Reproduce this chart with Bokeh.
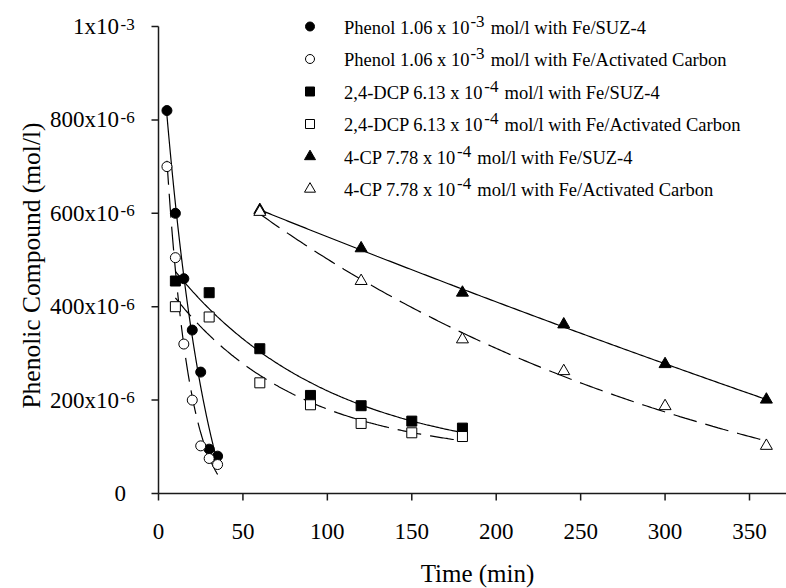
import numpy as np
from bokeh.plotting import figure
from bokeh.models import Range1d, Label, ColumnDataSource
from bokeh.core.properties import value
from bokeh.embed import file_html
from bokeh.resources import INLINE

# ---- measured concentrations (mol/l) against reaction time (min) ----
phenol_t = [5, 10, 15, 20, 25, 30, 35]
phenol_suz = [820e-6, 600e-6, 460e-6, 350e-6, 260e-6, 95e-6, 80e-6]
phenol_ac = [700e-6, 505e-6, 320e-6, 200e-6, 102e-6, 75e-6, 62e-6]

dcp_t = [10, 30, 60, 90, 120, 150, 180]
dcp_suz = [455e-6, 430e-6, 310e-6, 210e-6, 188e-6, 155e-6, 140e-6]
dcp_ac = [400e-6, 378e-6, 237e-6, 190e-6, 150e-6, 130e-6, 122e-6]

cp_t = [60, 120, 180, 240, 300, 360]
cp_suz = [607e-6, 525e-6, 430e-6, 362e-6, 277e-6, 201e-6]
cp_ac = [603e-6, 455e-6, 330e-6, 262e-6, 187e-6, 102e-6]

x_ticks = [0, 50, 100, 150, 200, 250, 300, 350]
x_tick_labels = ["0", "50", "100", "150", "200", "250", "300", "350"]
y_ticks = [0, 200e-6, 400e-6, 600e-6, 800e-6, 1e-3]
y_tick_base = ["0", "200x10", "400x10", "600x10", "800x10", "1x10"]
y_tick_sup = ["", "-6", "-6", "-6", "-6", "-3"]

legend_base = ["Phenol 1.06 x 10", "Phenol 1.06 x 10",
               "2,4-DCP 6.13 x 10", "2,4-DCP 6.13 x 10",
               "4-CP 7.78 x 10", "4-CP 7.78 x 10"]
legend_sup = ["-3", "-3", "-4", "-4", "-4", "-4"]
legend_tail = ["mol/l with Fe/SUZ-4", "mol/l with Fe/Activated Carbon",
               "mol/l with Fe/SUZ-4", "mol/l with Fe/Activated Carbon",
               "mol/l with Fe/SUZ-4", "mol/l with Fe/Activated Carbon"]

SERIF = "Liberation Serif"
W, H = 786, 588

# ---- page geometry (pixels) ----
AXIS_X = 158          # where time 0 sits
AXIS_Y = 493          # where concentration 0 sits
TOP_Y = 26            # where the top y tick sits
PX_PER_MIN = 591.0 / 350.0
PX_PER_CONC = (AXIS_Y - TOP_Y) / y_ticks[-1]
TICK_LEN = 7
AX_COLOR = "#1a1a1a"

# Times-compatible advance widths (per 1000 em) used to chain superscripts
ADV = {' ': 250, ',': 250, '-': 333, '.': 250, '/': 278, 'A': 722, 'C': 667,
       'D': 722, 'F': 556, 'P': 556, 'S': 556, 'U': 722, 'Z': 611, 'T': 611,
       'a': 444, 'b': 500, 'c': 444, 'd': 500, 'e': 444, 'h': 500, 'i': 278,
       'l': 278, 'm': 778, 'n': 500, 'o': 500, 'p': 500, 'r': 333, 't': 278,
       'u': 500, 'v': 500, 'w': 722, 'x': 500}


def text_width(s, size):
    return sum(ADV.get(ch, 500) for ch in s) * size / 1000.0


def decay_fit(t, c, n=200):
    """Least-squares fit of c = c0 + a*exp(-k t), k found by a scan."""
    t = np.asarray(t, float)
    c = np.asarray(c, float)
    best = None
    for k in np.linspace(0.0005, 0.3, 3000):
        X = np.column_stack([np.ones_like(t), np.exp(-k * t)])
        coef = np.linalg.lstsq(X, c, rcond=None)[0]
        sse = float(((X @ coef - c) ** 2).sum())
        if best is None or sse < best[0]:
            best = (sse, k, coef)
    _, k, (c0, a) = best
    tt = np.linspace(t.min(), t.max(), n)
    return tt, c0 + a * np.exp(-k * tt)


x_end = (W - AXIS_X) / PX_PER_MIN
p = figure(width=W, height=H,
           x_range=Range1d(-AXIS_X / PX_PER_MIN, x_end),
           y_range=Range1d(-(H - AXIS_Y) / PX_PER_CONC, AXIS_Y / PX_PER_CONC),
           x_axis_location=None, y_axis_location=None,
           output_backend="svg", toolbar_location=None,
           min_border=0)
p.background_fill_color = "white"
p.border_fill_color = "white"
p.outline_line_color = None
p.grid.visible = False

# page-pixel ranges over the whole frame, for ticks, labels and the key
p.extra_x_ranges = {"px": Range1d(0, W)}
p.extra_y_ranges = {"py": Range1d(H, 0)}

# ---- time axis ----
p.segment(x0=[0], y0=[0], x1=[x_end], y1=[0],
          line_color=AX_COLOR, line_width=1.5)
p.segment(x0=x_ticks, x1=x_ticks,
          y0=[AXIS_Y] * len(x_ticks), y1=[AXIS_Y + TICK_LEN] * len(x_ticks),
          y_range_name="py", line_color=AX_COLOR, line_width=1.5)
xlab = ColumnDataSource(dict(x=x_ticks, y=[530.5] * len(x_ticks),
                             text=x_tick_labels))
p.text(x="x", y="y", text="text", source=xlab, y_range_name="py",
       text_font=value(SERIF), text_font_size="23px", text_color="black",
       text_align="center", text_baseline="middle")
p.add_layout(Label(x=477, y=572.5, x_range_name="px", y_range_name="py",
                   text="Time (min)", text_font=SERIF,
                   text_font_size="25px", text_align="center",
                   text_baseline="middle", text_color="black"))

# ---- concentration axis: rule, outward ticks, labels with exponents ----
p.segment(x0=[0], y0=[y_ticks[0]], x1=[0], y1=[y_ticks[-1]],
          line_color=AX_COLOR, line_width=1.5)
p.segment(x0=[AXIS_X - TICK_LEN] * len(y_ticks), x1=[AXIS_X] * len(y_ticks),
          y0=y_ticks, y1=y_ticks, x_range_name="px",
          line_color=AX_COLOR, line_width=1.5)

TICK_FS = 23
SUP_FS = 17
for val, base, sup in zip(y_ticks, y_tick_base, y_tick_sup):
    right = 118.5 if sup else 125.5
    p.add_layout(Label(x=right, y=val, x_range_name="px", text=base,
                       text_font=SERIF, text_font_size=f"{TICK_FS}px",
                       text_align="right", text_baseline="middle",
                       text_color="black"))
    if sup:
        p.add_layout(Label(x=right + 1.5, y=val, x_range_name="px", text=sup,
                           text_font=SERIF, text_font_size=f"{SUP_FS}px",
                           text_align="left", text_baseline="middle",
                           y_offset=2.5, text_color="black"))

p.add_layout(Label(x=31, y=265, x_range_name="px", y_range_name="py",
                   text="Phenolic Compound (mol/l)", angle=np.pi / 2,
                   text_font=SERIF, text_font_size="25.5px",
                   text_align="center", text_baseline="middle",
                   text_color="black"))

# ---- fitted decay curves ----
series = [
    (phenol_t, phenol_suz, "solid"),
    (phenol_t, phenol_ac, "24 9"),
    (dcp_t, dcp_suz, "solid"),
    (dcp_t, dcp_ac, "24 9"),
    (cp_t, cp_suz, "solid"),
    (cp_t, cp_ac, "24 9"),
]
for t, c, dash in series:
    tt, cc = decay_fit(t, c)
    p.line(tt, cc, line_color="black", line_width=1.2, line_dash=dash)

# ---- data points ----
markers = [
    ("circle", "black", 10),
    ("circle", "white", 10),
    ("square", "black", 10),
    ("square", "white", 10),
    ("triangle", "black", 12),
    ("triangle", "white", 12),
]
for (t, c, _), (mk, fill, size) in zip(series, markers):
    p.scatter(t, c, marker=mk, size=size, fill_color=fill,
              line_color="black", line_width=1)

# ---- key ----
KEY_X = 309.5
KEY_TEXT_X = 343.5
KEY_TOP = 26
KEY_STEP = 32.5
KEY_FS = 18.5
KEY_SUP_FS = 17
for i, ((mk, fill, size), base, sup, tail) in enumerate(
        zip(markers, legend_base, legend_sup, legend_tail)):
    ry = KEY_TOP + KEY_STEP * i
    p.scatter([KEY_X], [ry], marker=mk, size=size - 1, fill_color=fill,
              line_color="black", line_width=1,
              x_range_name="px", y_range_name="py")
    text_y = ry + 1
    p.add_layout(Label(x=KEY_TEXT_X, y=text_y, x_range_name="px",
                       y_range_name="py", text=base, text_font=SERIF,
                       text_font_size=f"{KEY_FS}px", text_align="left",
                       text_baseline="middle", text_color="black"))
    sx = KEY_TEXT_X + text_width(base, KEY_FS) + 1
    p.add_layout(Label(x=sx, y=text_y - 6.5, x_range_name="px",
                       y_range_name="py", text=sup, text_font=SERIF,
                       text_font_size=f"{KEY_SUP_FS}px", text_align="left",
                       text_baseline="middle", text_color="black"))
    tx = sx + text_width(sup, KEY_SUP_FS) + text_width(" ", KEY_FS) + 1.5
    p.add_layout(Label(x=tx, y=text_y, x_range_name="px",
                       y_range_name="py", text=tail, text_font=SERIF,
                       text_font_size=f"{KEY_FS}px", text_align="left",
                       text_baseline="middle", text_color="black"))

open("out.html", "w").write(file_html(p, INLINE))
